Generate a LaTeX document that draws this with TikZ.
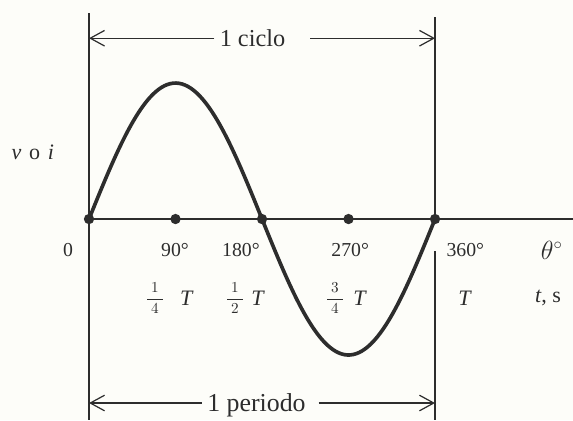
\documentclass[tikz,border=0pt]{standalone}
\usepackage{fontspec}
\setmainfont{Liberation Serif}
\usetikzlibrary{arrows.meta}
\definecolor{paper}{RGB}{253,253,249}
\definecolor{ink}{RGB}{45,45,45}

\begin{document}
\begin{tikzpicture}[x=2cm,y=2cm,
  hitdot/.style={circle,fill=ink,inner sep=0pt,minimum size=6.8pt},
  deglbl/.style={font=\fontsize{13}{15}\selectfont,text=ink},
  tlbl/.style={font=\fontsize{14.5}{16}\selectfont,text=ink},
  fraclbl/.style={font=\fontsize{10}{12}\selectfont,text=ink},
  dimlbl/.style={text=ink,text depth=0pt},
  dimarr/.style={-{Straight Barb[length=3.3mm,width=3.6mm]},line width=0.8pt,ink}]
  \fill[paper] (-1.029,-2.324) rectangle (5.595,2.532);
  \useasboundingbox (-1.029,-2.324) rectangle (5.595,2.532);
  % frame lines of one cycle
  \coordinate (topL) at (0,2.38);  \coordinate (botL) at (0,-2.324);
  \coordinate (topR) at (4,2.335); \coordinate (midR) at (4,-0.37);
  \coordinate (botR) at (4,-2.324); \coordinate (axend) at (5.595,0);
  \draw[line width=1pt,ink] (topL)--(botL);
  \draw[line width=1pt,ink] (topR)--(4,0) (midR)--(botR);
  \draw[line width=1.3pt,ink] (0,0)--(axend);
  % the wave
  \draw[line width=2.4pt,ink,line cap=round]
    plot[domain=0:4,samples=120,smooth] (\x,{1.572*sin(90*\x)});
  \foreach \i in {0,...,4} \node[hitdot] (d\i) at (\i,0) {};
  % dimension arrows
  \node[dimlbl,font=\fontsize{16}{18}\selectfont] (ciclo) at (1.89,2.09) {1 ciclo};
  \coordinate (cL) at (0,2.09); \coordinate (cR) at (4,2.09);
  \draw[dimarr] (ciclo.west)--(cL);
  \draw[dimarr] ([xshift=13pt]ciclo.east)--(cR);
  \node[dimlbl,font=\fontsize{17}{19}\selectfont] (periodo) at (1.936,-2.127) {1 periodo};
  \coordinate (pL) at (0,-2.127); \coordinate (pR) at (4,-2.127);
  \draw[dimarr] (periodo.west)--(pL);
  \draw[dimarr] ([xshift=5pt]periodo.east)--(pR);
  % axis labels
  \node[tlbl] (voi) at (-0.65,0.775)
    {\textit{v}\hspace{0.35em}o\hspace{0.35em}\textit{i}};
  \node[deglbl] (g0) at (-0.243,-0.36) {0};
  \node[deglbl] (g90) at (0.994,-0.36) {90°};
  \node[deglbl] (g180) at (1.757,-0.36) {180°};
  \node[deglbl] (g270) at (3.02,-0.36) {270°};
  \node[deglbl] (g360) at (4.35,-0.36) {360°};
  \node[tlbl,font=\fontsize{16}{18}\selectfont] (theta) at (5.35,-0.36) {$\theta^\circ$};
  \node[fraclbl] (f1) at (0.763,-0.913) {$\displaystyle\frac{\hspace{2.5pt}1\hspace{2.5pt}}{4}$};
  \node[tlbl] (T1) at (1.133,-0.913) {\textit{T}};
  \node[fraclbl] (f2) at (1.688,-0.913) {$\displaystyle\frac{\hspace{2.5pt}1\hspace{2.5pt}}{2}$};
  \node[tlbl] (T2) at (1.954,-0.913) {\textit{T}};
  \node[fraclbl] (f3) at (2.844,-0.913) {$\displaystyle\frac{\hspace{2.5pt}3\hspace{2.5pt}}{4}$};
  \node[tlbl] (T3) at (3.133,-0.913) {\textit{T}};
  \node[tlbl] (T4) at (4.347,-0.913) {\textit{T}};
  \node[tlbl] (ts) at (5.306,-0.913) {\textit{t}, s};
\end{tikzpicture}
\end{document}
